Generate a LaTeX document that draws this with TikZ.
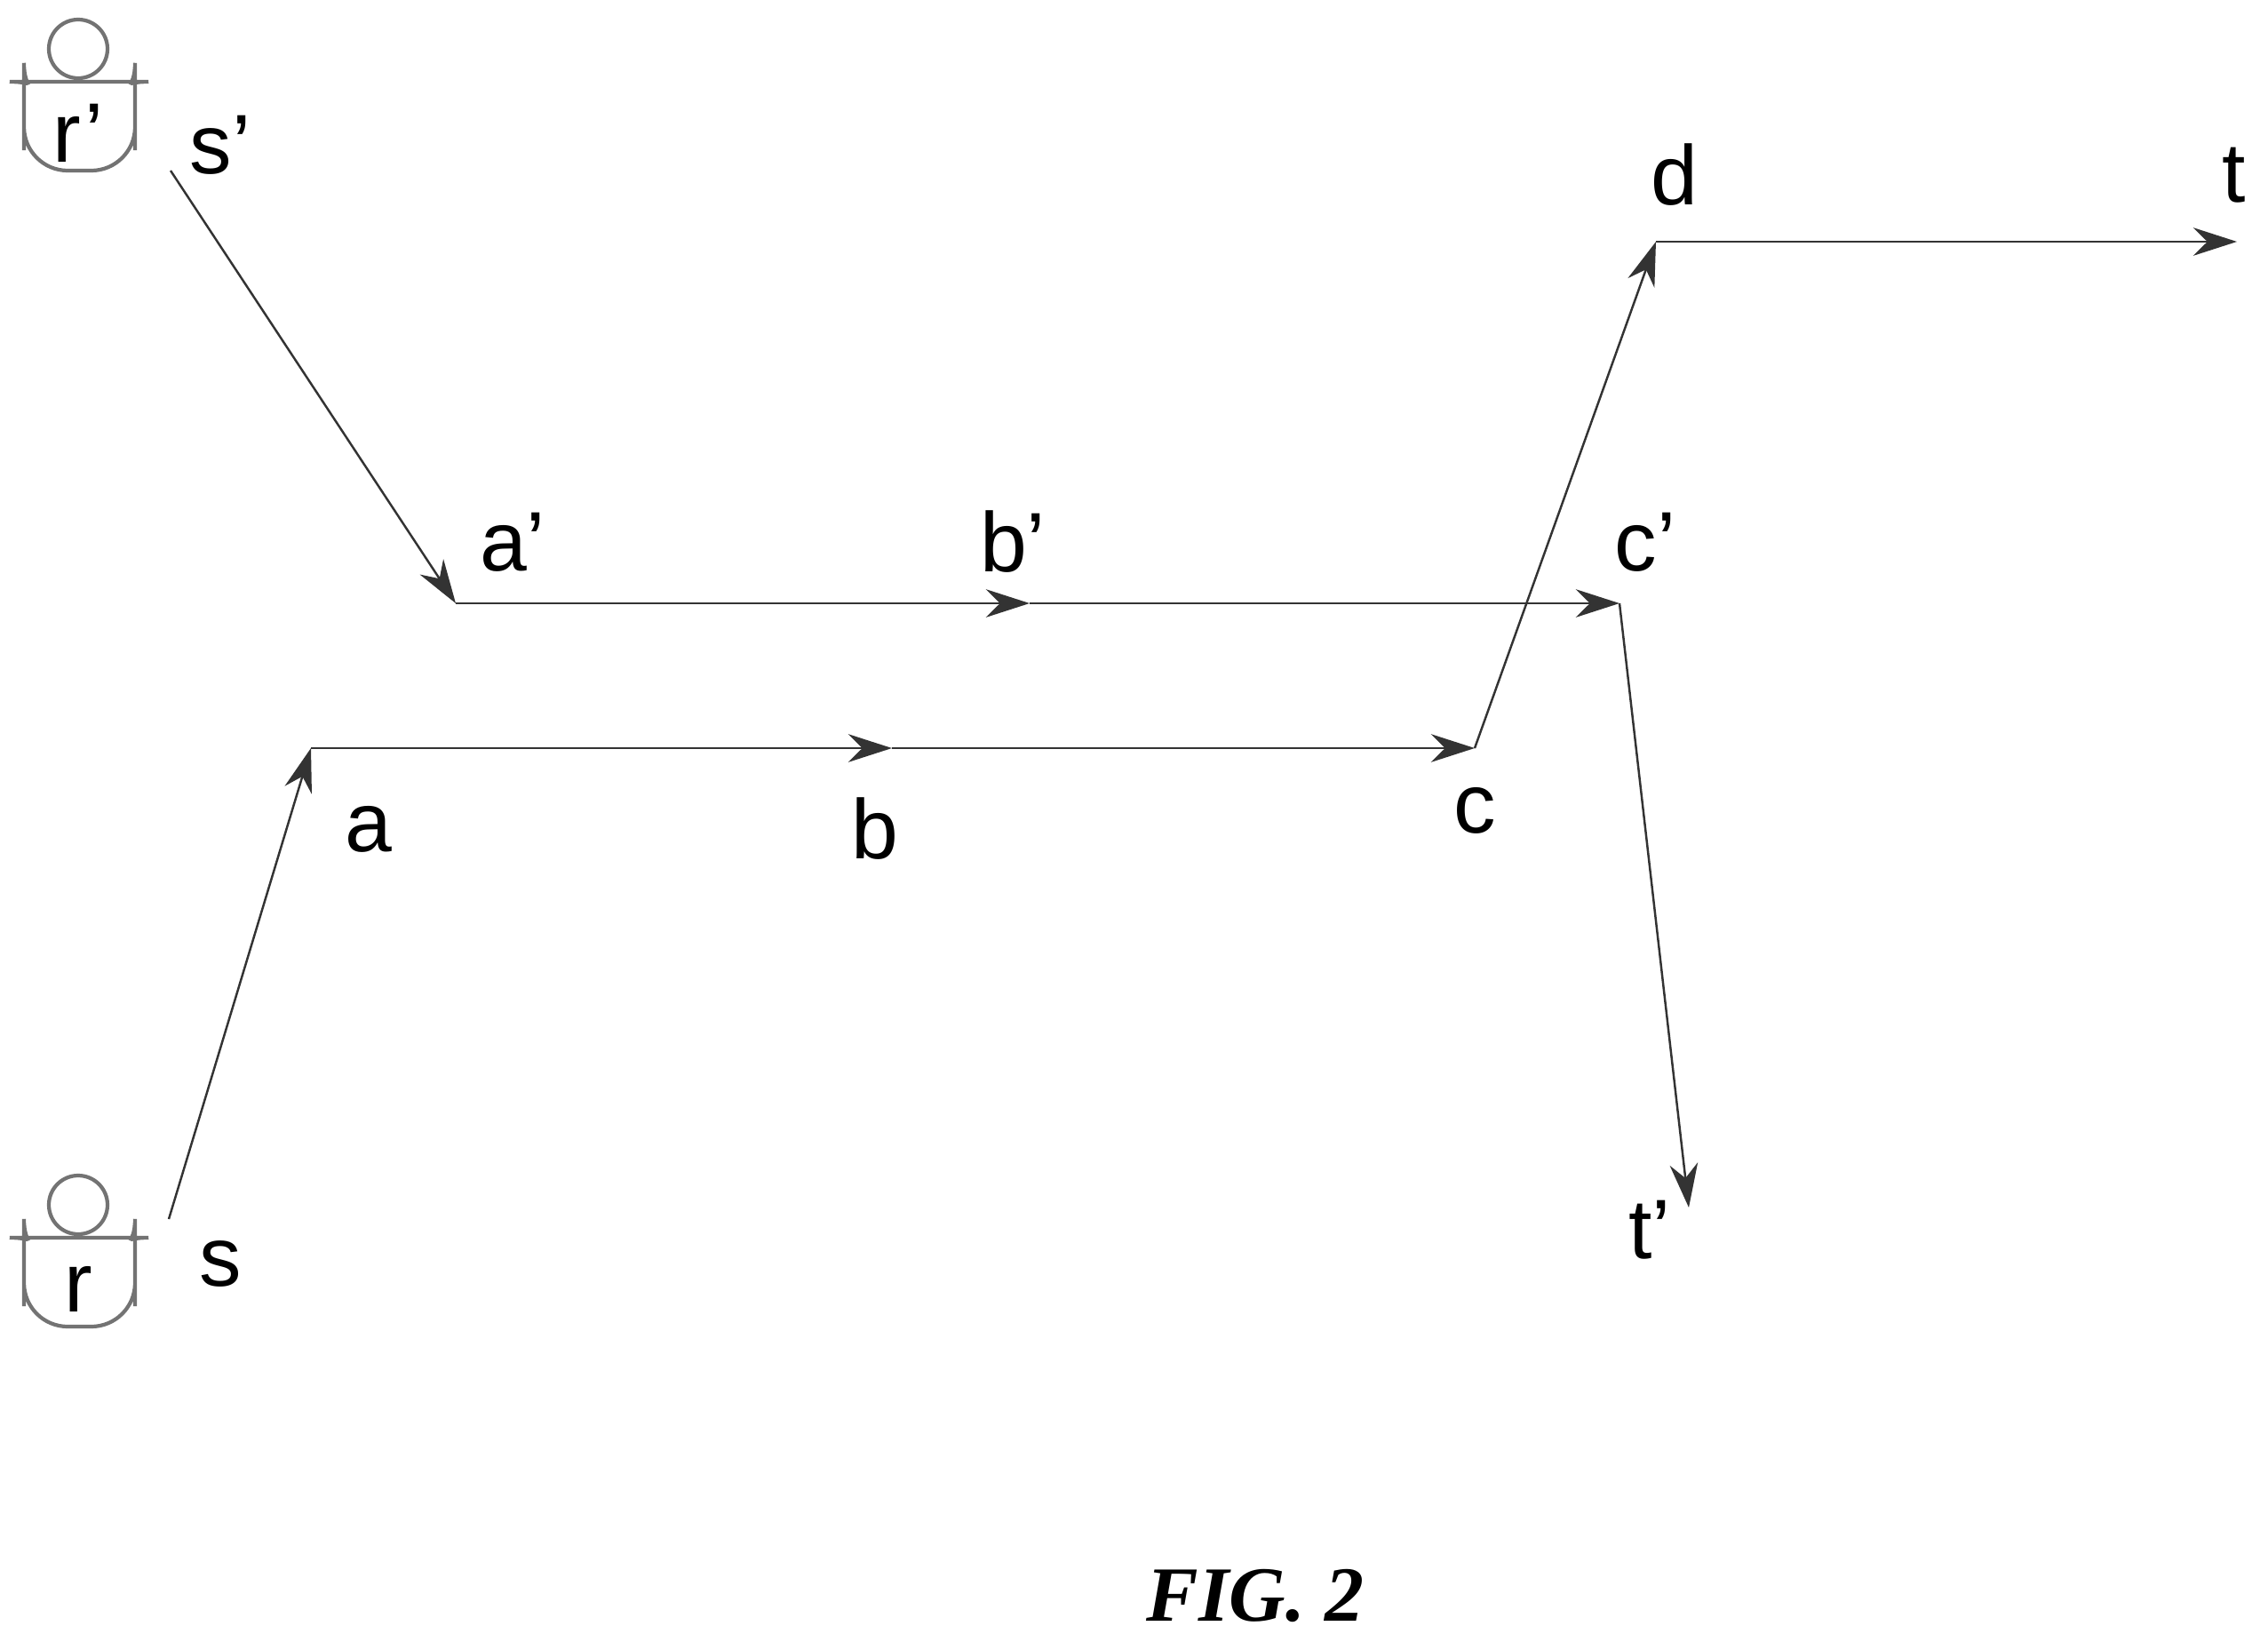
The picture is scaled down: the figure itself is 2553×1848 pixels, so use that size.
\documentclass[tikz,border=0pt]{standalone}
\usepackage{fontspec}
\setmainfont{Liberation Sans}
\newfontfamily\figfont{Liberation Serif}
\usetikzlibrary{arrows.meta}
\begin{document}
\begin{tikzpicture}[x=0.01cm,y=-0.01cm,
  conn/.style={draw=black!80,line width=0.7pt,-{Stealth[length=14pt,width=9pt]}},
  lbl/.style={font=\fontsize{27}{30}\selectfont,inner sep=0pt},
  icon/.style={draw=black!55,line width=1.2pt}]
\useasboundingbox (0,0) rectangle (2553,1848);
% icons
\foreach \n/\dy/\t in {top/0/r', bot/1301/r}{
  \draw[icon] (88,55+\dy) circle (33);
  \draw[icon,rounded corners=14] (27,192+\dy) -- (27,120+\dy) to[out=90,in=180] (60,92+\dy) -- (118,92+\dy) to[out=0,in=90] (152,120+\dy) -- (152,192+\dy) -- cycle;
  \node[lbl] (ic\n) at (88,150+\dy) {\t};
}
\coordinate (sp0) at (192,192);
\coordinate (s0) at (190,1372);
\coordinate (ap) at (513,679);
\coordinate (bp) at (1159,679);
\coordinate (cp) at (1823,679);
\coordinate (tp) at (1901,1359);
\coordinate (a) at (350,842);
\coordinate (b) at (1004,842);
\coordinate (c) at (1660,842);
\coordinate (d) at (1864,272);
\coordinate (t) at (2518,272);
\draw[conn] (sp0) -- (ap);
\draw[conn] (ap) -- (bp);
\draw[conn] (bp) -- (cp);
\draw[conn] (cp) -- (tp);
\draw[conn] (s0) -- (a);
\draw[conn] (a) -- (b);
\draw[conn] (b) -- (c);
\draw[conn] (c) -- (d);
\draw[conn] (d) -- (t);
\node[lbl] (Lsp) at (248,163) {s'};
\node[lbl] (Lap) at (577,610) {a'};
\node[lbl] (Lbp) at (1140,610) {b'};
\node[lbl] (Lcp) at (1852,610) {c'};
\node[lbl] (Ld) at (1885,197) {d};
\node[lbl] (Lt) at (2515,197) {t};
\node[lbl] (La) at (415,933) {a};
\node[lbl] (Lb) at (985,933) {b};
\node[lbl] (Lc) at (1660,912) {c};
\node[lbl] (Ltp) at (1857,1384) {t'};
\node[lbl] (Ls) at (248,1422) {s};
\node[inner sep=0pt,font=\figfont\bfseries\itshape\fontsize{25}{28}\selectfont] (fig) at (1413,1796) {FIG. 2};
\end{tikzpicture}
\end{document}
